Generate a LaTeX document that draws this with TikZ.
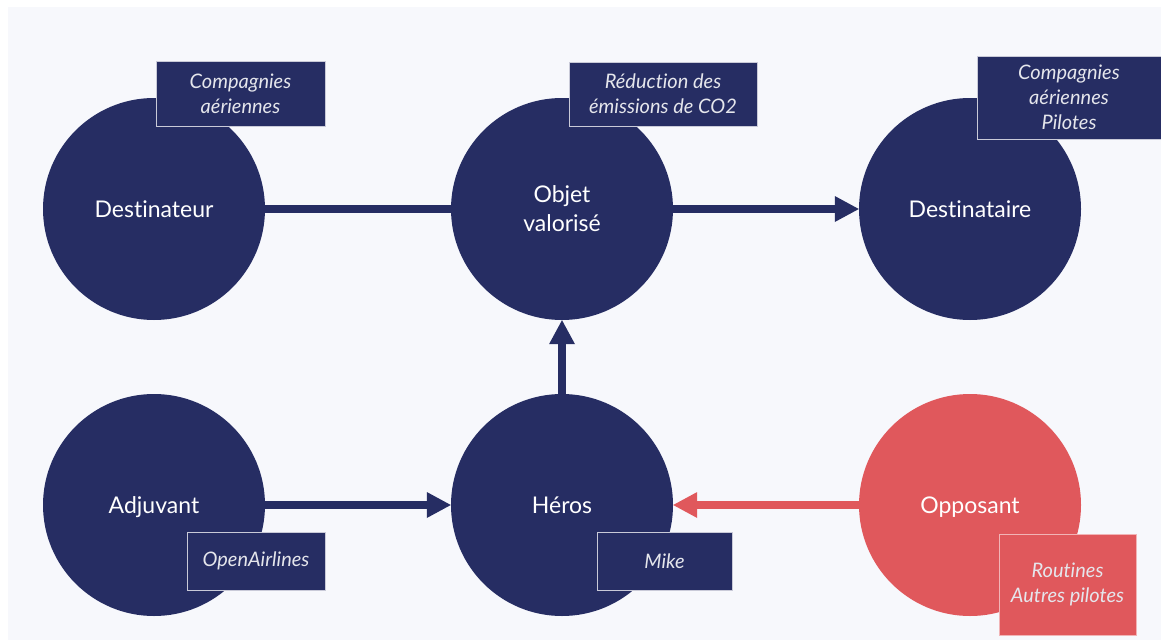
\documentclass[tikz,border=0pt]{standalone}
\usepackage{fontspec}
\setmainfont{Lato}[Ligatures=NoCommon]
\usetikzlibrary{arrows.meta, positioning}
\definecolor{navy}{HTML}{262D63}
\definecolor{coral}{HTML}{E0585C}
\definecolor{paper}{HTML}{F7F8FC}
\tikzset{
  actant/.style={circle, fill=navy, text=white, minimum size=222pt, inner sep=0pt, align=center, font=\fontsize{23}{29}\selectfont},
  tag/.style={rectangle, fill=navy, draw=navy!25, line width=0.9pt, text=white!88!navy, align=center, inner sep=0pt, font=\fontsize{20}{25}\selectfont\itshape},
  link/.style={-{Triangle[length=24pt,width=26pt,line width=0pt]}, line width=8pt, draw=navy}
}

\begin{document}
\begin{tikzpicture}[x=1pt, y=-1pt]

\useasboundingbox (0,0) rectangle (1161,640);
\fill[paper] (8,7) rectangle (1161,640);

% top row
\node[actant] (Dest) at (154,209) {Destinateur};
\node[actant] (Objet) at (562,209) {Objet\\valorisé};
\node[actant] (Destin) at (970,209) {Destinataire};

% bottom row
\node[actant, text depth=0pt] (Adj) at (154,505) {Adjuvant};
\node[actant] (Heros) at (562,505) {Héros};
\node[actant, text depth=0pt, fill=coral] (Opp) at (970,505) {Opposant};

% links
\draw[link, -] (Dest) -- (Objet);
\draw[link] (Objet) -- (Destin);
\draw[link] (Heros) -- (Objet);
\draw[link] (Adj) -- (Heros);
\draw[link, draw=coral, fill=coral] (Opp) -- (Heros);

% labels
\node[tag, minimum width=169pt, minimum height=65pt] (tDest) at (240.5,93.5) {Compagnies\\aériennes};
\node[tag, minimum width=188pt, minimum height=64pt] (tObjet) at (663,94) {Réduction des\\émissions de CO2};
\node[tag, minimum width=184pt, minimum height=83pt] (tDestin) at (1069,97.5) {Compagnies\\aériennes\\Pilotes};
\node[tag, minimum width=138pt, minimum height=58pt] (tAdj) at (256,561) {OpenAirlines};
\node[tag, minimum width=135pt, minimum height=58pt] (tHeros) at (664.5,561) {Mike};
\node[tag, fill=coral, draw=coral!45!white, minimum width=137pt, minimum height=101pt] (tOpp) at (1067.5,584.5) {Routines\\Autres pilotes};

\end{tikzpicture}
\end{document}
